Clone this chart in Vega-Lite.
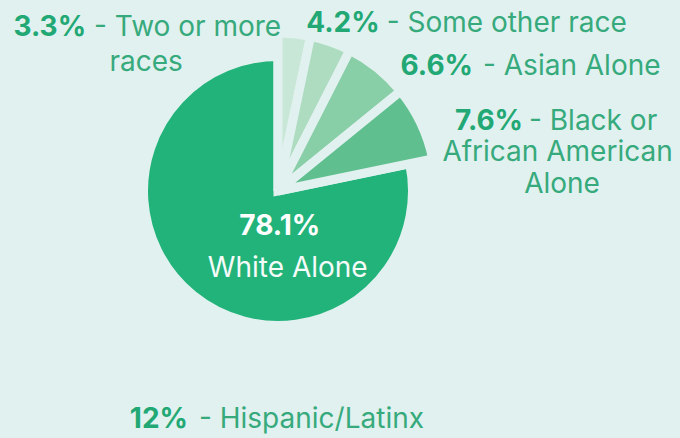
{
  "$schema": "https://vega.github.io/schema/vega-lite/v6.json",
  "width": 556,
  "height": 382,
  "autosize": {"type": "none"},
  "padding": {"left": 0, "top": 0, "right": 124, "bottom": 56},
  "background": "#e1f1ef",
  "config": {"view": {"stroke": null}, "text": {"font": "Inter", "fontSize": 28, "baseline": "alphabetic"}},
  "layer": [
    {
      "data": {"values": [
        {"race": "Two or more races", "pct": 3.3, "rank": 1, "pct_label": "3.3%", "name": "- Two or more", "name2": "races"},
        {"race": "Some other race", "pct": 4.2, "rank": 2, "pct_label": "4.2%", "name": "- Some other race"},
        {"race": "Asian Alone", "pct": 6.6, "rank": 3, "pct_label": "6.6%", "name": "- Asian Alone"},
        {"race": "Black or African American Alone", "pct": 7.6, "rank": 4, "pct_label": "7.6%", "name": "- Black or", "name2": "African American", "name3": "Alone"},
        {"race": "White Alone", "pct": 78.1, "rank": 5, "pct_label": "78.1%", "name": "White Alone"}
      ]},
      "encoding": {
        "theta": {"field": "pct", "type": "quantitative", "stack": true},
        "order": {"field": "rank", "type": "quantitative"}
      },
      "layer": [
        {
          "mark": {"type": "arc", "radius": 134.5, "stroke": "#e1f1ef", "strokeWidth": 9},
          "encoding": {
            "color": {"field": "race", "type": "nominal", "legend": null,
              "scale": {"domain": ["Two or more races", "Some other race", "Asian Alone", "Black or African American Alone", "White Alone"],
                        "range": ["#c9e7d6", "#aedcc1", "#88cea7", "#5fbf8f", "#22b37b"]}},
            "opacity": {"condition": {"test": "datum.race === 'White Alone'", "value": 1}, "value": 0}
          }
        },
        {
          "mark": {"type": "arc", "radius": 158, "stroke": "#e1f1ef", "strokeWidth": 9},
          "encoding": {
            "color": {"field": "race", "type": "nominal", "legend": null},
            "opacity": {"condition": {"test": "datum.race === 'White Alone'", "value": 0}, "value": 1}
          }
        },
        {
          "mark": {"type": "text", "radius": 165, "align": "right", "dx": -209, "dy": 9, "fontWeight": "bold", "color": "#22a874"},
          "encoding": {"text": {"field": "pct_label", "condition": {"test": "datum.race !== 'Two or more races'", "value": ""}}}
        },
        {
          "mark": {"type": "text", "radius": 165, "align": "left", "dx": -201, "dy": 9, "color": "#36aa7c"},
          "encoding": {"text": {"field": "name", "condition": {"test": "datum.race !== 'Two or more races'", "value": ""}}}
        },
        {
          "mark": {"type": "text", "radius": 165, "align": "center", "dx": -149, "dy": 44, "color": "#36aa7c"},
          "encoding": {"text": {"field": "name2", "condition": {"test": "datum.race !== 'Two or more races'", "value": ""}}}
        },
        {
          "mark": {"type": "text", "radius": 170, "align": "right", "dx": 45, "dy": 1, "fontWeight": "bold", "color": "#22a874"},
          "encoding": {"text": {"field": "pct_label", "condition": {"test": "datum.race !== 'Some other race'", "value": ""}}}
        },
        {
          "mark": {"type": "text", "radius": 170, "align": "left", "dx": 52, "dy": 1, "color": "#36aa7c"},
          "encoding": {"text": {"field": "name", "condition": {"test": "datum.race !== 'Some other race'", "value": ""}}}
        },
        {
          "mark": {"type": "text", "radius": 175, "align": "right", "dx": 85, "dy": 20, "fontWeight": "bold", "color": "#22a874"},
          "encoding": {"text": {"field": "pct_label", "condition": {"test": "datum.race !== 'Asian Alone'", "value": ""}}}
        },
        {
          "mark": {"type": "text", "radius": 175, "align": "left", "dx": 95, "dy": 20, "color": "#36aa7c"},
          "encoding": {"text": {"field": "name", "condition": {"test": "datum.race !== 'Asian Alone'", "value": ""}}}
        },
        {
          "mark": {"type": "text", "radius": 175, "align": "right", "dx": 87, "dy": 14, "fontWeight": "bold", "color": "#22a874"},
          "encoding": {"text": {"field": "pct_label", "condition": {"test": "datum.race !== 'Black or African American Alone'", "value": ""}}}
        },
        {
          "mark": {"type": "text", "radius": 175, "align": "left", "dx": 93, "dy": 14, "color": "#36aa7c"},
          "encoding": {"text": {"field": "name", "condition": {"test": "datum.race !== 'Black or African American Alone'", "value": ""}}}
        },
        {
          "mark": {"type": "text", "radius": 175, "align": "center", "dx": 121.5, "dy": 45, "color": "#36aa7c"},
          "encoding": {"text": {"field": "name2", "condition": {"test": "datum.race !== 'Black or African American Alone'", "value": ""}}}
        },
        {
          "mark": {"type": "text", "radius": 175, "align": "center", "dx": 126, "dy": 77, "color": "#36aa7c"},
          "encoding": {"text": {"field": "name3", "condition": {"test": "datum.race !== 'Black or African American Alone'", "value": ""}}}
        },
        {
          "mark": {"type": "text", "radius": 40, "align": "center", "dx": 27, "dy": 13, "fontWeight": "bold", "color": "#ffffff"},
          "encoding": {"text": {"field": "pct_label", "condition": {"test": "datum.race !== 'White Alone'", "value": ""}}}
        },
        {
          "mark": {"type": "text", "radius": 40, "align": "center", "dx": 35, "dy": 55, "color": "#f4fbf8"},
          "encoding": {"text": {"field": "name", "condition": {"test": "datum.race !== 'White Alone'", "value": ""}}}
        }
      ]
    },
    {
      "data": {"values": [{"pct_label": "12%", "name": "- Hispanic/Latinx"}]},
      "layer": [
        {
          "mark": {"type": "text", "theta": 3.14159, "radius": 237, "align": "right", "dx": -90, "fontWeight": "bold", "color": "#22a874"},
          "encoding": {"text": {"field": "pct_label"}}
        },
        {
          "mark": {"type": "text", "theta": 3.14159, "radius": 237, "align": "left", "dx": -79, "color": "#36aa7c"},
          "encoding": {"text": {"field": "name"}}
        }
      ]
    }
  ]
}
